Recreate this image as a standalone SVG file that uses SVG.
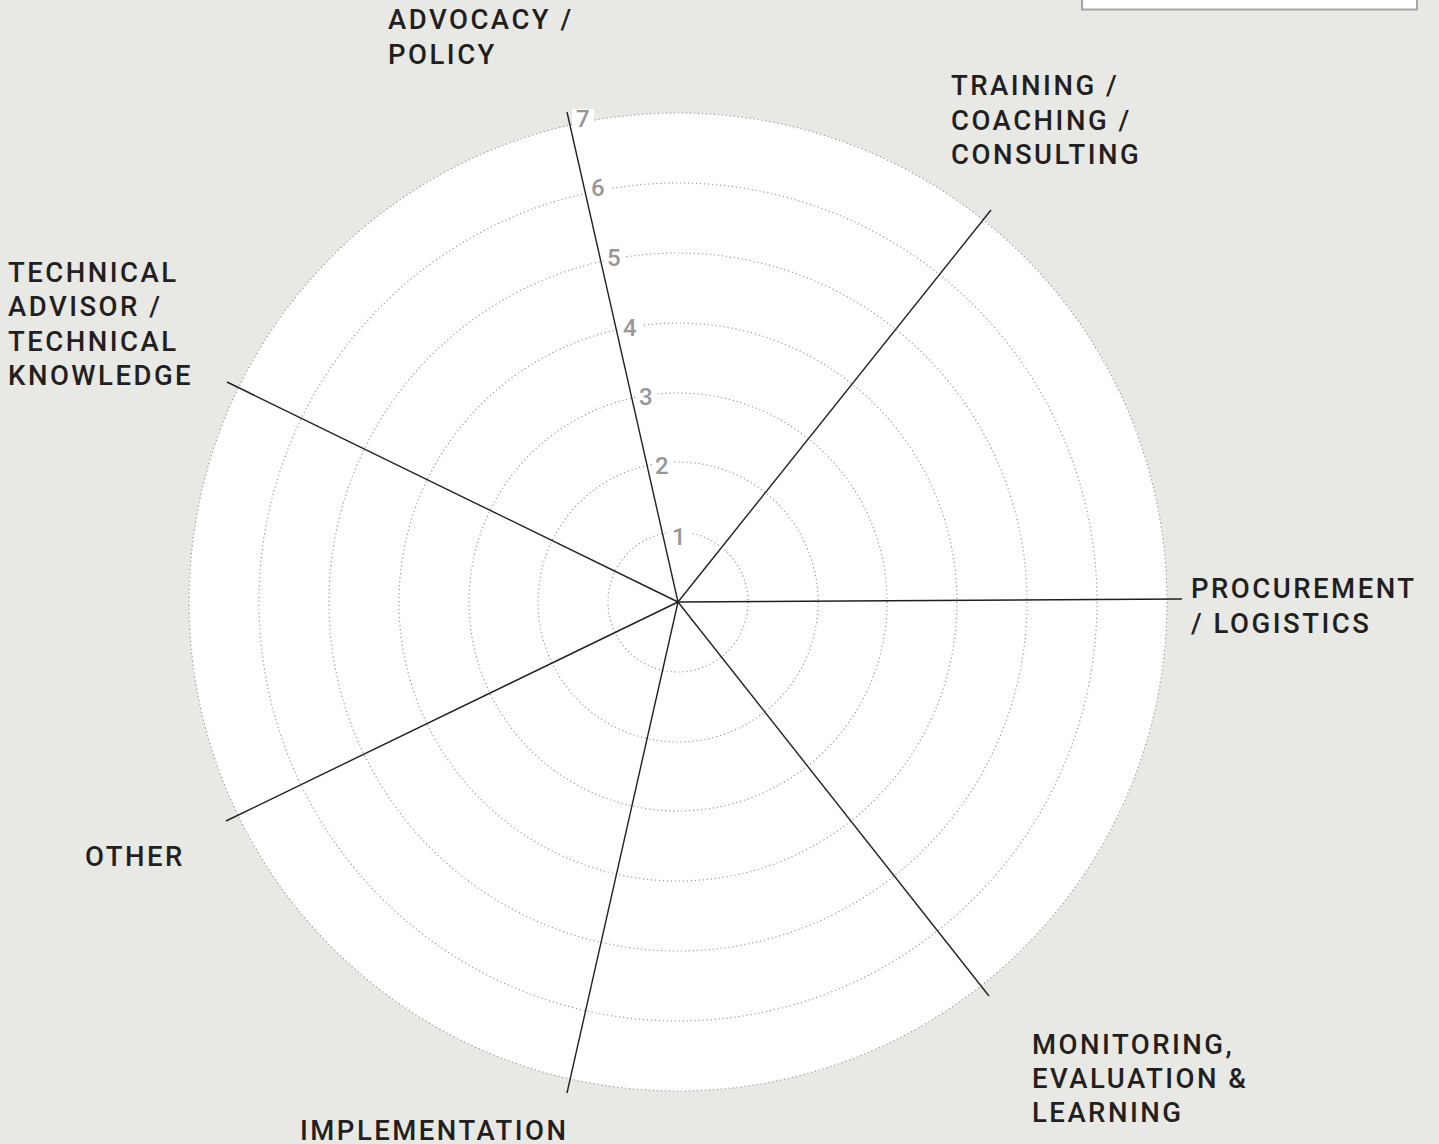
<svg xmlns="http://www.w3.org/2000/svg" width="1439" height="1144" viewBox="0 0 1439 1144">
<style>
.lbl{font-family:Roboto,"Liberation Sans",sans-serif;font-size:27.5px;font-weight:500;letter-spacing:2.5px;fill:#231f20}
.num{font-family:Roboto,"Liberation Sans",sans-serif;font-size:24px;font-weight:500;fill:#979797}
.ring{fill:none;stroke:#9c9c9c;stroke-width:1.2;stroke-dasharray:1.2 2.8}
.spoke{stroke:#231f20;stroke-width:1.4;fill:none}
.nb{fill:#ffffff}
</style>
<rect x="0" y="0" width="1439" height="1144" fill="#e8e8e4"/>
<rect x="1082" y="-10" width="335" height="19.5" fill="#ffffff" stroke="#a6a6a6" stroke-width="2"/>
<g id="grid">
<circle cx="678" cy="602" r="489" fill="#ffffff"/>
<circle class="ring" cx="678" cy="602" r="489"/>
<circle class="ring" cx="678" cy="602" r="419"/>
<circle class="ring" cx="678" cy="602" r="349"/>
<circle class="ring" cx="678" cy="602" r="279"/>
<circle class="ring" cx="678" cy="602" r="209"/>
<circle class="ring" cx="678" cy="602" r="140"/>
<circle class="ring" cx="678" cy="602" r="70"/>
</g>
<g id="scale">
<rect class="nb" x="668" y="522" width="22" height="26"/><text class="num" x="672" y="545">1</text>
<rect class="nb" x="652" y="452" width="22" height="26"/><text class="num" x="655" y="474">2</text>
<rect class="nb" x="636" y="383" width="22" height="26"/><text class="num" x="639" y="405">3</text>
<rect class="nb" x="620" y="313" width="22" height="26"/><text class="num" x="623" y="336">4</text>
<rect class="nb" x="604" y="244" width="22" height="26"/><text class="num" x="607" y="266">5</text>
<rect class="nb" x="588" y="174" width="22" height="26"/><text class="num" x="591" y="196">6</text>
<rect class="nb" x="572" y="109" width="22" height="24"/><text class="num" x="576" y="127">7</text>
</g>
<g id="connectors">
<line class="spoke" x1="678" y1="602" x2="567" y2="112"/>
<line class="spoke" x1="678" y1="602" x2="991" y2="210"/>
<line class="spoke" x1="678" y1="602" x2="1182" y2="599"/>
<line class="spoke" x1="678" y1="602" x2="989" y2="996"/>
<line class="spoke" x1="678" y1="602" x2="567" y2="1093"/>
<line class="spoke" x1="678" y1="602" x2="226" y2="821"/>
<line class="spoke" x1="678" y1="602" x2="227" y2="382"/>
</g>
<g id="advocacy"><text class="lbl" x="388" y="29">ADVOCACY /</text><text class="lbl" x="388" y="64">POLICY</text></g>
<g id="training"><text class="lbl" x="951" y="95">TRAINING /</text><text class="lbl" x="951" y="130">COACHING /</text><text class="lbl" x="951" y="164">CONSULTING</text></g>
<g id="procurement"><text class="lbl" x="1191" y="598">PROCUREMENT</text><text class="lbl" x="1191" y="633">/ LOGISTICS</text></g>
<g id="monitoring"><text class="lbl" x="1032" y="1054">MONITORING,</text><text class="lbl" x="1032" y="1088">EVALUATION &amp;</text><text class="lbl" x="1032" y="1122">LEARNING</text></g>
<g id="implementation"><text class="lbl" x="300" y="1140">IMPLEMENTATION</text></g>
<g id="other"><text class="lbl" x="85" y="866">OTHER</text></g>
<g id="technical"><text class="lbl" x="8" y="282">TECHNICAL</text><text class="lbl" x="8" y="316">ADVISOR /</text><text class="lbl" x="8" y="351">TECHNICAL</text><text class="lbl" x="8" y="385">KNOWLEDGE</text></g>
</svg>
